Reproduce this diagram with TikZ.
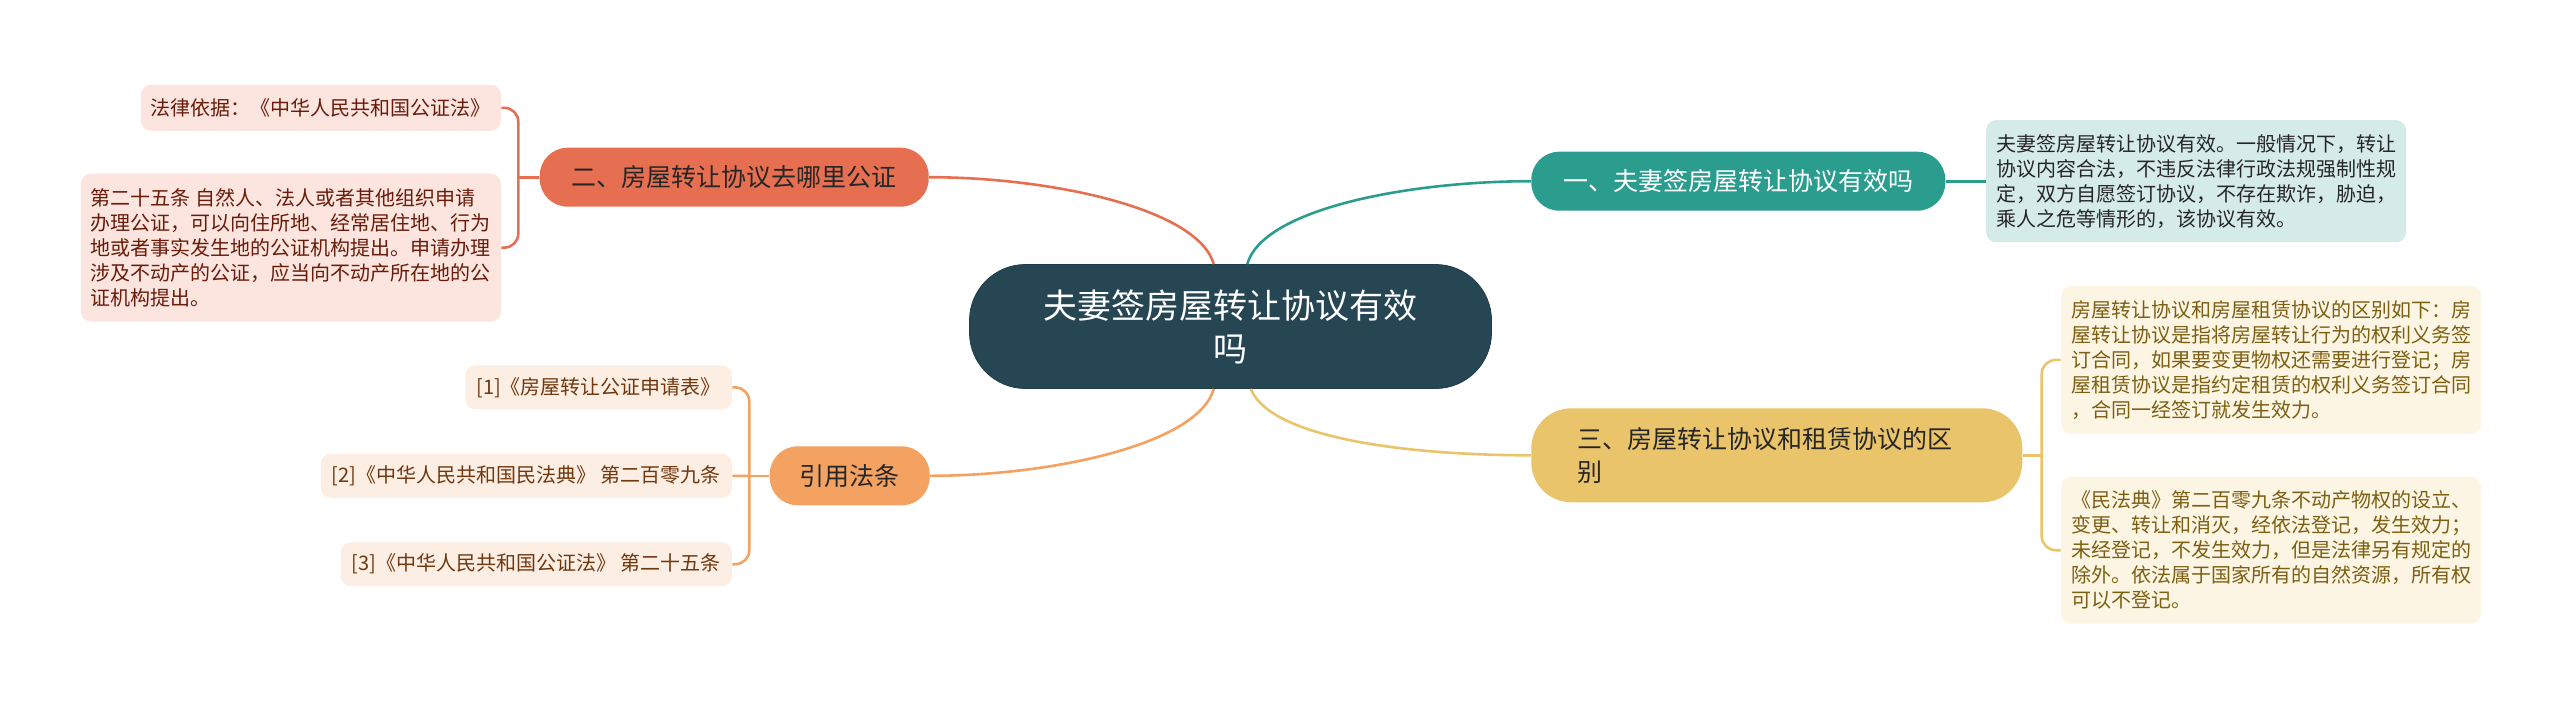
\documentclass[tikz,border=0pt]{standalone}
\usepackage{fontspec}
\setmainfont{Noto Sans CJK SC}
\usepackage{tikz}
\usetikzlibrary{shapes,positioning,calc}
\definecolor{slate}{HTML}{264653}
\definecolor{seagreen}{HTML}{2A9D8F}
\definecolor{sand}{HTML}{E9C46A}
\definecolor{apricot}{HTML}{F4A261}
\definecolor{coral}{HTML}{E76F51}
\definecolor{seafill}{HTML}{D5EBE9}
\definecolor{coralfill}{HTML}{FCE5DE}
\definecolor{sandfill}{HTML}{FCF5E3}
\definecolor{apricotfill}{HTML}{FDEEE3}
\definecolor{coraltext}{HTML}{6A1B0A}
\definecolor{sandtext}{HTML}{7D5F12}
\definecolor{apricottext}{HTML}{70380F}
\tikzset{center node/.style={rounded corners=28pt,fill=slate,draw=slate!85!black,text=white,minimum width=261pt,minimum height=62pt,align=center,font=\fontsize{17pt}{21.5pt}\selectfont},
	branch node/.style={rounded corners=14pt,minimum height=29.5pt,inner xsep=16pt,text=black!85,font=\fontsize{12.5pt}{16.7pt}\selectfont},
}
\tikzstyle{leafnode}=[rounded corners=5pt,inner xsep=5pt,minimum height=22pt,align=left,font=\fontsize{10pt}{12.5pt}\selectfont]
\tikzstyle{link}=[line width=1.3pt]

\begin{document}
\begin{tikzpicture}[x=0.5pt,y=-0.5pt]
		\useasboundingbox (0,0) rectangle (2560,708);
		\node[center node] (C) at (1230.5,326.5) {夫妻签房屋转让协议有效\\吗};
		
		\node[branch node,fill=seagreen,text=white] (b1) [above right=26.5pt and 19.5pt of C] {一、夫妻签房屋转让协议有效吗};
		\node[branch node,fill=coral] (b2) [above left=28.5pt and 20pt of C] {二、房屋转让协议去哪里公证};
		\node[branch node,fill=sand,rounded corners=20pt,minimum height=47pt,inner xsep=23pt,text width=199.5pt,align=left] (b3) [below right=9.5pt and 19.5pt of C] {三、房屋转让协议和租赁协议的区\\别};
		\node[branch node,fill=apricot,inner xsep=15pt] (b4) [below left=28.5pt and 19.5pt of C] {引用法条};
		
		\node[leafnode,fill=seafill,text=black!85,minimum width=207pt,minimum height=61pt] (l1) [right=20pt of b1] {夫妻签房屋转让协议有效。一般情况下，转让\\协议内容合法，不违反法律行政法规强制性规\\定，双方自愿签订协议，不存在欺诈，胁迫，\\乘人之危等情形的，该协议有效。};
		
		\node[leafnode,fill=coralfill,text=coraltext,minimum height=23pt] (l2a) [above left=23pt and 19pt of b2.west] {法律依据：《中华人民共和国公证法》};
		\node[leafnode,fill=coralfill,text=coraltext,minimum width=208.5pt,minimum height=74pt] (l2b) [below=21pt of l2a.south east,anchor=north east] {第二十五条 自然人、法人或者其他组织申请\\办理公证，可以向住所地、经常居住地、行为\\地或者事实发生地的公证机构提出。申请办理\\涉及不动产的公证，应当向不动产所在地的公\\证机构提出。};
		
		\node[leafnode,fill=sandfill,text=sandtext,minimum width=208pt,minimum height=74pt] (l3a) [above right=10.5pt and 19pt of b3.east] {房屋转让协议和房屋租赁协议的区别如下：房\\屋转让协议是指将房屋转让行为的权利义务签\\订合同，如果要变更物权还需要进行登记；房\\屋租赁协议是指约定租赁的权利义务签订合同\\，合同一经签订就发生效力。};
		\node[leafnode,fill=sandfill,text=sandtext,minimum width=208pt,minimum height=73.5pt] (l3b) [below right=10.5pt and 19pt of b3.east] {《民法典》第二百零九条不动产物权的设立、\\变更、转让和消灭，经依法登记，发生效力；\\未经登记，不发生效力，但是法律另有规定的\\除外。依法属于国家所有的自然资源，所有权\\可以不登记。};
		
		\node[leafnode,fill=apricotfill,text=apricottext,inner xsep=5.5pt] (l4a) [above left=33pt and 18.5pt of b4.west] {[1]《房屋转让公证申请表》};
		\node[leafnode,fill=apricotfill,text=apricottext,inner xsep=5.5pt] (l4b) [left=18.5pt of b4] {[2]《中华人民共和国民法典》 第二百零九条};
		\node[leafnode,fill=apricotfill,text=apricottext,inner xsep=5.5pt] (l4c) [below left=33pt and 18.5pt of b4.west] {[3]《中华人民共和国公证法》 第二十五条};
		
		% center to branches
		\path[link,draw=coral] (b2.east) .. controls +(60pt,0pt) and +(-8pt,28pt) .. (C.105);
		\path[link,draw=seagreen] (C.75) .. controls +(8pt,28pt) and +(-60pt,0pt) .. (b1.west);
		\path[link,draw=apricot] (C.255) .. controls +(-8pt,-28pt) and +(60pt,0pt) .. (b4.east);
		\path[link,draw=sand] (C.288) .. controls +(10pt,-25pt) and +(-60pt,0pt) .. (b3.west);
		
		% branches to leaves
		\draw[link,seagreen] (b1.east) -- (l1.west);
		\draw[link,coral] (b2.west) -- ++(-10.5pt,0) coordinate (j2);
		\draw[link,coral,rounded corners=7pt] (j2) |- (l2a.east) (j2) |- (l2b.east);
		\draw[link,sand] (b3.east) -- ++(9.5pt,0) coordinate (j3);
		\draw[link,sand,rounded corners=7pt] (j3) |- (l3a.west) (j3) |- (l3b.west);
		\draw[link,apricot] (b4.west) -- ++(-10pt,0) coordinate (j4);
		\draw[link,apricot,rounded corners=7pt] (j4) |- (l4a.east) (j4) |- (l4c.east) (j4) -- (l4b.east);
\end{tikzpicture}
\end{document}
